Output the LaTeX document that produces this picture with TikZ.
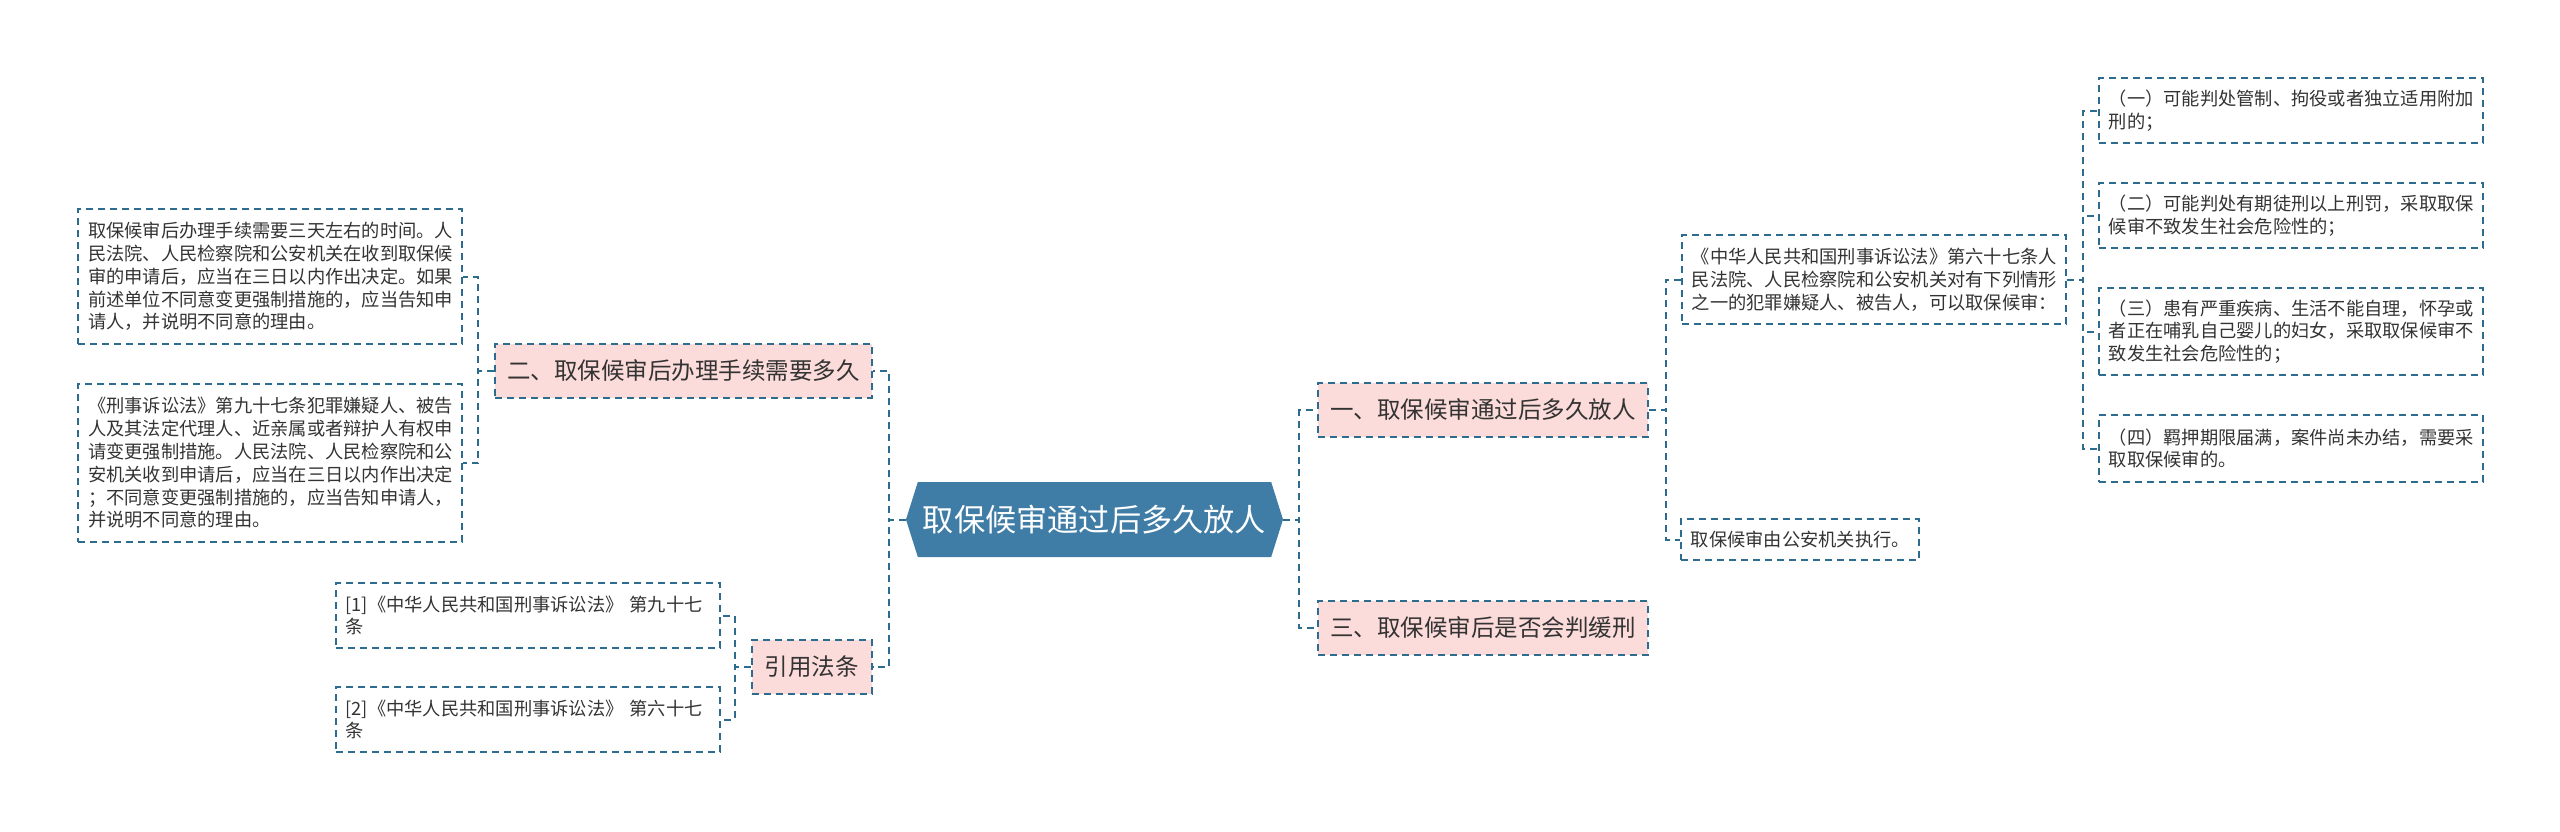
\documentclass[tikz,border=0pt]{standalone}
\usepackage{fontspec}
\setmainfont{Noto Sans CJK SC}
\usetikzlibrary{shapes.symbols, positioning}

\definecolor{linkblue}{HTML}{2D6B8F}
\definecolor{rootblue}{HTML}{3F7DA6}
\definecolor{branchpink}{HTML}{FBDCDA}
\definecolor{textgray}{HTML}{333333}

\begin{document}
\begin{tikzpicture}[
    node distance=17pt,
    root/.style={signal, signal to=west and east, signal pointer angle=145, fill=rootblue, text=white, minimum width=188.5pt, minimum height=37.5pt, inner sep=0pt, font=\fontsize{15.6pt}{18pt}\selectfont},
    branch/.style={rectangle, draw=linkblue, fill=branchpink, line width=1pt, dash pattern=on 3.5pt off 2.5pt, text=textgray, inner xsep=6pt, minimum height=27pt, font=\fontsize{11.75pt}{14pt}\selectfont},
    leaf/.style={rectangle, draw=linkblue, line width=1pt, dash pattern=on 3.5pt off 2.5pt, text=textgray, inner xsep=5pt, inner ysep=3pt, align=left, text width=182pt, font=\fontsize{9.125pt}{11.4pt}\selectfont},
    link/.style={draw=linkblue, line width=1pt, dash pattern=on 3.5pt off 2.5pt}
]
    \useasboundingbox (0,0) rectangle (1280pt,-415.5pt);

    \node[root] (root) at (547.25pt,-259.75pt) {取保候审通过后多久放人};

    % left side
    \node[branch, left=16.5pt of root.west, yshift=74.5pt] (b2) {二、取保候审后办理手续需要多久};
    \node[branch, inner xsep=6.5pt, left=16.5pt of root.west, yshift=-73.75pt] (b4) {引用法条};
    \node[leaf, minimum height=67.5pt, left=15.5pt of b2.west, yshift=47pt] (lt1) {取保候审后办理手续需要三天左右的时间。人\\民法院、人民检察院和公安机关在收到取保候\\审的申请后，应当在三日以内作出决定。如果\\前述单位不同意变更强制措施的，应当告知申\\请人，并说明不同意的理由。};
    \node[leaf, minimum height=79pt, left=15.5pt of b2.west, yshift=-46.25pt] (lt2) {《刑事诉讼法》第九十七条犯罪嫌疑人、被告\\人及其法定代理人、近亲属或者辩护人有权申\\请变更强制措施。人民法院、人民检察院和公\\安机关收到申请后，应当在三日以内作出决定\\；不同意变更强制措施的，应当告知申请人，\\并说明不同意的理由。};
    \node[leaf, minimum height=32.5pt, left=15pt of b4.west, yshift=25.75pt] (r1) {[1]《中华人民共和国刑事诉讼法》~第九十七\\条};
    \node[leaf, minimum height=32.5pt, left=15pt of b4.west, yshift=-26.25pt] (r2) {[2]《中华人民共和国刑事诉讼法》~第六十七\\条};

    % right side
    \node[branch, right=of root.east, yshift=54.75pt] (b1) {一、取保候审通过后多久放人};
    \node[branch, right=of root.east, yshift=-54.25pt] (b3) {三、取保候审后是否会判缓刑};
    \node[leaf, minimum height=44.5pt, right=16pt of b1.east, yshift=65.25pt] (law) {《中华人民共和国刑事诉讼法》第六十七条人\\民法院、人民检察院和公安机关对有下列情形\\之一的犯罪嫌疑人、被告人，可以取保候审：};
    \node[leaf, text width=109pt, minimum height=20.5pt, right=15.5pt of b1.east, yshift=-64.75pt] (exec) {取保候审由公安机关执行。};
    \node[leaf, minimum height=32.5pt, right=15.5pt of law.east, yshift=84.5pt] (i1) {（一）可能判处管制、拘役或者独立适用附加\\刑的；};
    \node[leaf, minimum height=32.5pt, right=15.5pt of law.east, yshift=32pt] (i2) {（二）可能判处有期徒刑以上刑罚，采取取保\\候审不致发生社会危险性的；};
    \node[leaf, minimum height=43.5pt, right=15.5pt of law.east, yshift=-26pt] (i3) {（三）患有严重疾病、生活不能自理，怀孕或\\者正在哺乳自己婴儿的妇女，采取取保候审不\\致发生社会危险性的；};
    \node[leaf, minimum height=33.5pt, right=15.5pt of law.east, yshift=-84.5pt] (i4) {（四）羁押期限届满，案件尚未办结，需要采\\取取保候审的。};

    % connectors
    \foreach \kid in {b2, b4}
        \draw[link] (root.west) -- ++(-8.5pt,0) |- (\kid.east);
    \foreach \kid in {b1, b3}
        \draw[link] (root.east) -- ++(8pt,0) |- (\kid.west);
    \foreach \kid in {lt1, lt2}
        \draw[link] (b2.west) -- ++(-8pt,0) |- (\kid.east);
    \foreach \kid in {r1, r2}
        \draw[link] (b4.west) -- ++(-8pt,0) |- (\kid.east);
    \foreach \kid in {law, exec}
        \draw[link] (b1.east) -- ++(8.5pt,0) |- (\kid.west);
    \foreach \kid in {i1, i2, i3, i4}
        \draw[link] (law.east) -- ++(8pt,0) |- (\kid.west);
\end{tikzpicture}
\end{document}
